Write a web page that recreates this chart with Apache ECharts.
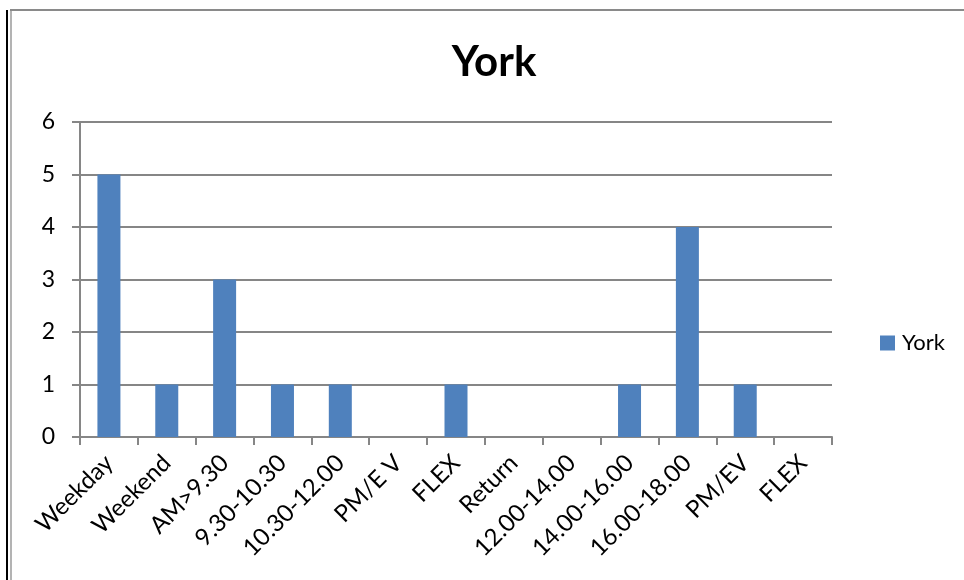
<!DOCTYPE html>
<html>
<head>
<meta charset="utf-8">
<script src="https://cdn.jsdelivr.net/npm/echarts@6/dist/echarts.min.js"></script>
<style>
  html, body { margin: 0; padding: 0; background: #fff; }
  #chart { width: 964px; height: 580px; }
</style>
</head>
<body>
<div id="chart"></div>
<script>
var categories = ['Weekday', 'Weekend', 'AM>9.30', '9.30-10.30', '10.30-12.00', 'PM/E V', 'FLEX',
                  'Return', '12.00-14.00', '14.00-16.00', '16.00-18.00', 'PM/EV', 'FLEX'];
var york = [5, 1, 3, 1, 1, 0, 1, 0, 0, 1, 4, 1, 0];
var yTicks = [0, 1, 2, 3, 4, 5, 6];

var font = 'Lato';
var chart = echarts.init(document.getElementById('chart'));

var option = {
    animation: false,
    title: {
        text: 'York',
        left: 489, top: 36, textAlign: 'center',
        textStyle: { fontFamily: font, fontSize: 42, fontWeight: 'bold', color: '#000' }
    },
    legend: {
        left: 875, top: 327,
        itemWidth: 15, itemHeight: 15, itemGap: 6,
        icon: 'rect',
        textStyle: { fontFamily: font, fontSize: 22, color: '#000', padding: [0, 0, 0, 2] },
        data: ['York']
    },
    grid: { left: 80, top: 122, width: 752, height: 315, containLabel: false },
    xAxis: {
        type: 'category',
        data: categories,
        axisLine: { lineStyle: { color: '#868686', width: 2 } },
        axisTick: { show: true, length: 8, alignWithLabel: false, lineStyle: { color: '#868686', width: 2 } },
        axisLabel: { rotate: 45, interval: 0, margin: 22, fontFamily: font, fontSize: 24, color: '#000' }
    },
    yAxis: {
        type: 'value',
        min: yTicks[0], max: yTicks[yTicks.length - 1], interval: 1,
        axisLine: { show: true, lineStyle: { color: '#868686', width: 2 } },
        axisTick: { show: true, length: 8, lineStyle: { color: '#868686', width: 2 } },
        axisLabel: { margin: 25, fontFamily: font, fontSize: 23, color: '#000' },
        splitLine: { lineStyle: { color: '#868686', width: 2 } }
    },
    series: [{
        name: 'York',
        type: 'bar',
        data: york,
        barWidth: 23,
        itemStyle: { color: '#4f81bd' }
    }],
    graphic: [
        { type: 'line', shape: { x1: 7, y1: 10, x2: 7, y2: 580 }, style: { stroke: '#000', lineWidth: 2 } },
        { type: 'line', shape: { x1: 11, y1: 10, x2: 11, y2: 580 }, style: { stroke: '#9a9a9a', lineWidth: 1.5 } },
        { type: 'line', shape: { x1: 10, y1: 10, x2: 964, y2: 10 }, style: { stroke: '#8a8a8a', lineWidth: 2 } }
    ]
};

chart.setOption(option);
</script>
</body>
</html>
